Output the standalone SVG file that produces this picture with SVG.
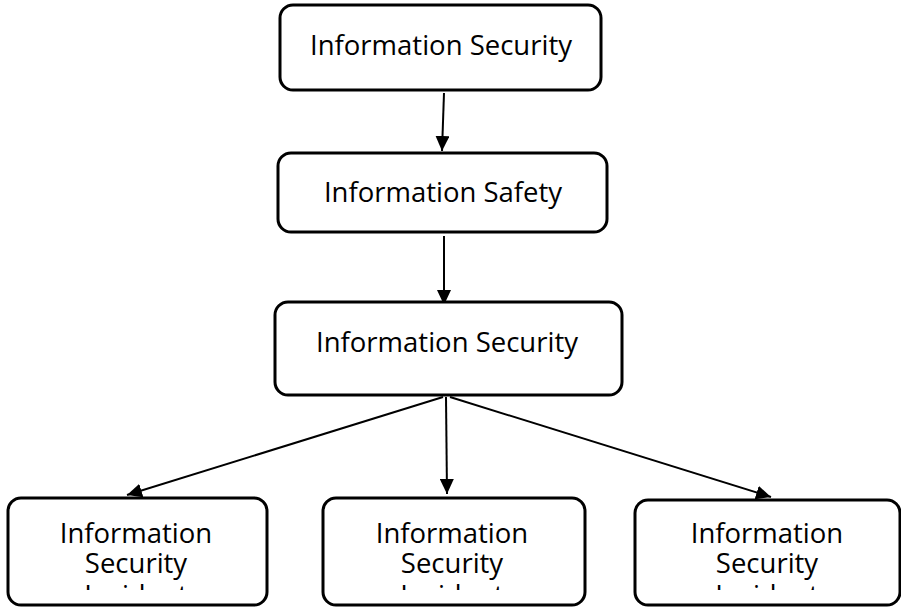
<svg xmlns="http://www.w3.org/2000/svg" width="901" height="607" viewBox="0 0 901 607">
  <defs>
    <style>
      .box { fill: #ffffff; stroke: #000000; stroke-width: 3; }
      .label { font-family: "Open Sans", "Noto Sans", sans-serif; font-size: 27.5px; fill: #000000; text-anchor: middle; }
      .edge { stroke: #000000; stroke-width: 2; fill: none; marker-end: url(#arrow); }
    </style>
    <marker id="arrow" markerUnits="userSpaceOnUse" markerWidth="16" markerHeight="14" refX="15" refY="7" orient="auto">
      <path d="M0,0 L15,7 L0,14 Z" fill="#000000"/>
    </marker>
    <!-- third label line overflows the box and is cut off -->
    <clipPath id="clip-left"><rect x="10" y="500" width="255" height="90"/></clipPath>
    <clipPath id="clip-mid"><rect x="325" y="500" width="258" height="90"/></clipPath>
    <clipPath id="clip-right"><rect x="637" y="502" width="261" height="88"/></clipPath>
  </defs>
  <rect width="901" height="607" fill="#ffffff"/>

  <g id="connectors">
    <line class="edge" x1="444" y1="93" x2="442" y2="151"/>
    <line class="edge" x1="444" y1="236" x2="444" y2="305"/>
    <line class="edge" x1="446" y1="397" x2="447" y2="494"/>
    <line class="edge" x1="443" y1="397" x2="127" y2="495"/>
    <line class="edge" x1="450" y1="397" x2="771" y2="497"/>
  </g>

  <g id="node-top">
    <rect class="box" x="280" y="5" width="321" height="85" rx="13"/>
    <text class="label" x="441" y="55">Information Security</text>
  </g>

  <g id="node-safety">
    <rect class="box" x="278" y="153" width="329" height="79" rx="13"/>
    <text class="label" x="443" y="202">Information Safety</text>
  </g>

  <g id="node-security">
    <rect class="box" x="275" y="302" width="347" height="93" rx="13"/>
    <text class="label" x="447" y="352">Information Security</text>
  </g>

  <g id="node-incident-left">
    <rect class="box" x="8" y="498" width="259" height="107" rx="13"/>
    <text class="label" x="136" y="543">Information</text>
    <text class="label" x="136" y="573">Security</text>
    <text class="label" x="136" y="605" clip-path="url(#clip-left)">Incident</text>
  </g>

  <g id="node-incident-mid">
    <rect class="box" x="323" y="498" width="262" height="107" rx="13"/>
    <text class="label" x="452" y="543">Information</text>
    <text class="label" x="452" y="573">Security</text>
    <text class="label" x="452" y="605" clip-path="url(#clip-mid)">Incident</text>
  </g>

  <g id="node-incident-right">
    <rect class="box" x="635" y="500" width="265" height="105" rx="13"/>
    <text class="label" x="767" y="543">Information</text>
    <text class="label" x="767" y="573">Security</text>
    <text class="label" x="767" y="605" clip-path="url(#clip-right)">Incident</text>
  </g>
</svg>
